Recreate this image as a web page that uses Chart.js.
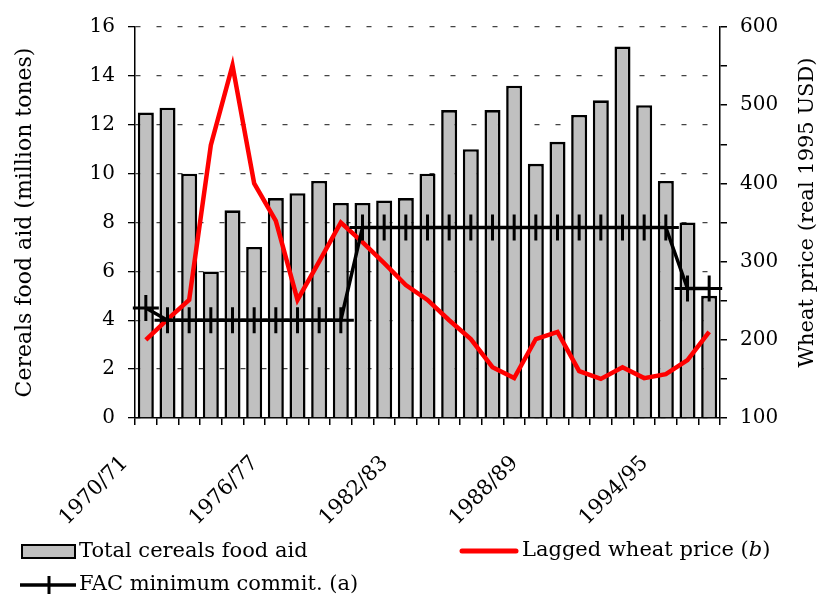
<!DOCTYPE html>
<html><head><meta charset="utf-8">
<script src="https://cdn.jsdelivr.net/npm/chart.js@4.4.1/dist/chart.umd.min.js"></script>
<style>html,body{margin:0;padding:0;background:#fff}</style>
</head><body>
<canvas id="c" width="820" height="597" style="width:820px;height:597px;display:block"></canvas>
<script>
const categories = ['1970/71','1971/72','1972/73','1973/74','1974/75','1975/76','1976/77','1977/78','1978/79','1979/80',
  '1980/81','1981/82','1982/83','1983/84','1984/85','1985/86','1986/87','1987/88','1988/89','1989/90',
  '1990/91','1991/92','1992/93','1993/94','1994/95','1995/96','1996/97'];
const shownLabels = ['1970/71','1976/77','1982/83','1988/89','1994/95'];
const foodAid = [12.5,12.7,10.0,6.0,8.5,7.0,9.0,9.2,9.7,8.8,8.8,8.9,9.0,10.0,12.6,11.0,12.6,13.6,10.4,11.3,12.4,13.0,15.2,12.8,9.7,8.0,5.0];
const wheatPrice = [200,226,251,449,551,400,352,251,300,350,325,298,270,251,225,201,165,151,201,210,160,150,165,151,156,174,210];
const facCommit = [4.5,4.0,4.0,4.0,4.0,4.0,4.0,4.0,4.0,4.0,7.8,7.8,7.8,7.8,7.8,7.8,7.8,7.8,7.8,7.8,7.8,7.8,7.8,7.8,7.8,5.3,5.3];
const leftTicks = [0,2,4,6,8,10,12,14,16];
const rightTicks = [100,200,300,400,500,600];
const rightTitle = 'Wheat price (real 1995 USD)';

const FONT = 'DejaVu Serif';

const legendPlugin = {
  id: 'customLegend',
  afterDraw(chart) {
    const ctx = chart.ctx;
    const ds = chart.data.datasets;
    ctx.save();
    ctx.font = '21px "' + FONT + '"';
    ctx.fillStyle = '#000';
    ctx.textBaseline = 'middle';
    ctx.textAlign = 'left';
    // bar item
    ctx.fillStyle = ds[0].backgroundColor;
    ctx.fillRect(22, 545, 53, 13);
    ctx.strokeStyle = '#000';
    ctx.lineWidth = 2;
    ctx.strokeRect(22, 545, 53, 13);
    ctx.fillStyle = '#000';
    ctx.fillText(ds[0].label, 79, 552);
    // red line item
    ctx.strokeStyle = ds[1].borderColor;
    ctx.lineWidth = 5;
    ctx.lineCap = 'round';
    ctx.beginPath(); ctx.moveTo(462, 551); ctx.lineTo(516, 551); ctx.stroke();
    ctx.lineCap = 'butt';
    let x = 522;
    const txt = 'Lagged wheat price (';
    ctx.fillText(txt, x, 551); x += ctx.measureText(txt).width;
    ctx.font = 'italic 21px "' + FONT + '"';
    ctx.fillText('b', x, 551); x += ctx.measureText('b').width;
    ctx.font = '21px "' + FONT + '"';
    ctx.fillText(')', x, 551);
    // FAC item
    ctx.strokeStyle = '#000';
    ctx.lineWidth = 3.5;
    ctx.beginPath(); ctx.moveTo(20, 585); ctx.lineTo(76, 585); ctx.stroke();
    ctx.lineWidth = 3;
    ctx.beginPath(); ctx.moveTo(49, 576); ctx.lineTo(49, 594); ctx.stroke();
    ctx.fillText(ds[2].label, 79, 585);
    // right axis title, reading bottom-to-top
    const y1 = chart.scales.y1;
    ctx.font = '21px "' + FONT + '"';
    ctx.textAlign = 'center';
    ctx.translate(y1.right - 12, (y1.top + y1.bottom) / 2 - 10);
    ctx.rotate(-Math.PI / 2);
    ctx.fillText(rightTitle, 0, 0);
    ctx.restore();
  }
};

new Chart(document.getElementById('c'), {
  data: {
    labels: categories,
    datasets: [
      { type: 'bar', label: 'Total cereals food aid', data: foodAid, yAxisID: 'y',
        backgroundColor: '#c0c0c0', borderColor: '#000', borderWidth: 2.6,
        categoryPercentage: 1.0, barPercentage: 0.74, order: 3 },
      { type: 'line', label: 'Lagged wheat price', data: wheatPrice, yAxisID: 'y1',
        borderColor: '#ff0000', borderWidth: 4.5, pointRadius: 0, tension: 0, fill: false, order: 2 },
      { type: 'line', label: 'FAC minimum commit. (a)', data: facCommit, yAxisID: 'y',
        borderColor: '#000', borderWidth: 3.5, pointStyle: 'cross', pointRadius: 13,
        pointBorderColor: '#000', pointBorderWidth: 3, tension: 0, fill: false, order: 1 }
    ]
  },
  options: {
    responsive: false,
    animation: false,
    devicePixelRatio: 1,
    layout: { padding: { left: 0, right: 0, top: 27, bottom: 69 } },
    plugins: { legend: { display: false }, tooltip: { enabled: false } },
    scales: {
      x: {
        type: 'category',
        offset: true,
        grid: { offset: true, drawOnChartArea: false, drawTicks: true, tickLength: 7, color: '#000', lineWidth: 1.5 },
        border: { color: '#000', width: 1.5 },
        ticks: {
          autoSkip: false, maxRotation: 45, minRotation: 45, color: '#000',
          font: { family: FONT, size: 21 }, padding: 26, labelOffset: -21,
          callback: (v, i) => shownLabels.includes(categories[i]) ? categories[i] : ''
        },
        afterFit: s => { s.height = 110; }
      },
      y: {
        position: 'left', min: 0, max: 16,
        ticks: { stepSize: 1, maxTicksLimit: 100, color: '#000', font: { family: FONT, size: 20 }, padding: 13,
          callback: v => leftTicks.includes(v) ? String(v) : '' },
        grid: {
          color: c => (c.tick && leftTicks.includes(c.tick.value)) ? '#444' : 'rgba(0,0,0,0)',
          tickColor: '#000', tickLength: 7, lineWidth: 1.3
        },
        border: { color: '#000', width: 1.5, dash: [5, 16] },
        title: { display: true, text: 'Cereals food aid (million tones)', color: '#000',
          font: { family: FONT, size: 22 }, padding: { top: 12, bottom: 0 } },
        afterFit: s => { s.width = 135; }
      },
      y1: {
        position: 'right', min: 100, max: 600,
        ticks: { stepSize: 50, maxTicksLimit: 100, color: '#000', font: { family: FONT, size: 20 }, padding: 13,
          callback: v => rightTicks.includes(v) ? String(v) : '' },
        grid: { drawOnChartArea: false, tickColor: '#000', tickLength: 7, lineWidth: 1.5 },
        border: { color: '#000', width: 1.5 },
        title: { display: false },
        afterFit: s => { s.width = 100; }
      }
    }
  },
  plugins: [legendPlugin]
});
</script>
</body></html>
